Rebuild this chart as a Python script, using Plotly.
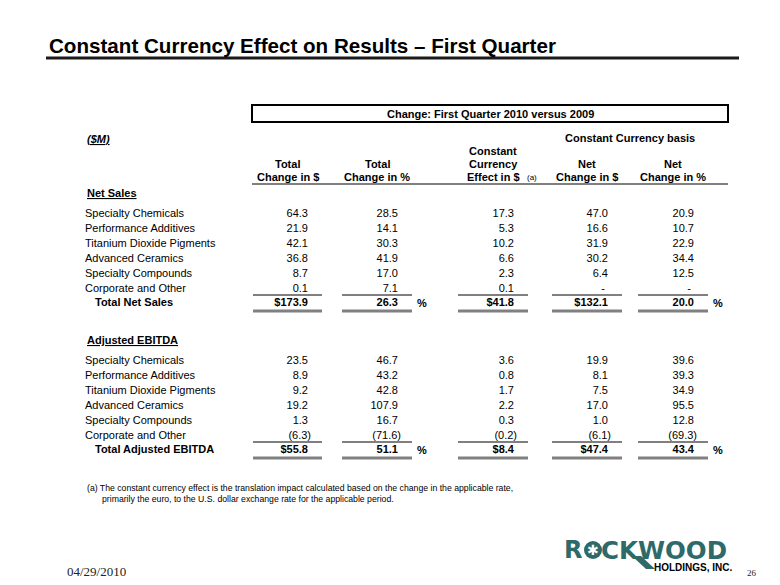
import plotly.graph_objects as go

# ---- data (US$ millions / %) ----
segments = ["Specialty Chemicals", "Performance Additives", "Titanium Dioxide Pigments",
            "Advanced Ceramics", "Specialty Compounds", "Corporate and Other"]

col_headers = [["", "Total", "Change in $"],
               ["", "Total", "Change in %"],
               ["Constant", "Currency", "Effect in $"],
               ["", "Net", "Change in $"],
               ["", "Net", "Change in %"]]

# Net Sales
sales_total_usd = [64.3, 21.9, 42.1, 36.8, 8.7, 0.1]
sales_total_pct = [28.5, 14.1, 30.3, 41.9, 17.0, 7.1]
sales_cc_effect = [17.3, 5.3, 10.2, 6.6, 2.3, 0.1]
sales_net_usd = [47.0, 16.6, 31.9, 30.2, 6.4, None]
sales_net_pct = [20.9, 10.7, 22.9, 34.4, 12.5, None]
sales_totals = [173.9, 26.3, 41.8, 132.1, 20.0]

# Adjusted EBITDA
ebitda_total_usd = [23.5, 8.9, 9.2, 19.2, 1.3, -6.3]
ebitda_total_pct = [46.7, 43.2, 42.8, 107.9, 16.7, -71.6]
ebitda_cc_effect = [3.6, 0.8, 1.7, 2.2, 0.3, -0.2]
ebitda_net_usd = [19.9, 8.1, 7.5, 17.0, 1.0, -6.1]
ebitda_net_pct = [39.6, 39.3, 34.9, 95.5, 12.8, -69.3]
ebitda_totals = [55.8, 51.1, 8.4, 47.4, 43.4]

dollar_cols = [True, False, True, True, False]

# ---- layout constants (pixels of the 780x585 slide) ----
FONT = "Liberation Sans, Arial, sans-serif"
COL_RIGHT = [311, 401, 517, 611, 697]
SEG = [(253, 322), (342, 412), (458, 528), (552, 622), (638, 708)]
SALES_Y0, EBITDA_Y0, STEP = 214, 361, 15
NBSP = "\u00a0"
PAGE_MARGIN = 8  # default body margin of the html page


def fmt(v):
    if v is None:
        return "-" + NBSP * 2
    if v < 0:
        return f"({abs(v):.1f})"
    return f"{v:.1f}" + NBSP


def fmt_total(v, dollar):
    return f"<b>{'$' if dollar else ''}{v:.1f}</b>" + NBSP


fig = go.Figure()


def add_block(cols, totals, y0, total_label):
    ys = [y0 + i * STEP for i in range(len(segments))]
    y_tot = ys[-1] + 14
    # segment labels
    fig.add_trace(go.Scatter(
        x=[85] * len(segments), y=ys, text=segments, mode="text",
        textposition="middle right", textfont=dict(family=FONT, size=11, color="black"),
        hoverinfo="skip", showlegend=False, cliponaxis=False))
    fig.add_trace(go.Scatter(
        x=[95], y=[y_tot], text=[f"<b>{total_label}</b>"], mode="text",
        textposition="middle right", textfont=dict(family=FONT, size=11, color="black"),
        hoverinfo="skip", showlegend=False, cliponaxis=False))
    for j, vals in enumerate(cols):
        fig.add_trace(go.Scatter(
            x=[COL_RIGHT[j]] * (len(vals) + 1), y=ys + [y_tot],
            text=[fmt(v) for v in vals] + [fmt_total(totals[j], dollar_cols[j])],
            mode="text", textposition="middle left",
            textfont=dict(family=FONT, size=11, color="black"),
            hoverinfo="skip", showlegend=False, cliponaxis=False))
        x0, x1 = SEG[j]
        fig.add_shape(type="line", x0=x0, x1=x1, y0=y_tot - 8, y1=y_tot - 8,
                      line=dict(color="black", width=1))
        fig.add_shape(type="line", x0=x0, x1=x1, y0=y_tot + 8, y1=y_tot + 8,
                      line=dict(color="#808080", width=3))
    for j in (1, 4):
        fig.add_annotation(x=SEG[j][1] + 3, y=y_tot, text="<b>%</b>", showarrow=False,
                           xanchor="left", font=dict(family=FONT, size=11, color="black"))


add_block([sales_total_usd, sales_total_pct, sales_cc_effect, sales_net_usd, sales_net_pct],
          sales_totals, SALES_Y0, "Total Net Sales")
add_block([ebitda_total_usd, ebitda_total_pct, ebitda_cc_effect, ebitda_net_usd, ebitda_net_pct],
          ebitda_totals, EBITDA_Y0, "Total Adjusted EBITDA")

# column headers
for j, lines in enumerate(col_headers):
    xc = (SEG[j][0] + SEG[j][1]) / 2
    for k, t in enumerate(lines):
        if t:
            fig.add_annotation(x=xc, y=151 + k * 13, text=f"<b>{t}</b>", showarrow=False,
                               font=dict(family=FONT, size=11, color="black"))
fig.add_annotation(x=532, y=177, text="(a)", showarrow=False,
                   font=dict(family=FONT, size=8, color="black"))
fig.add_shape(type="line", x0=252, x1=728, y0=184, y1=184, line=dict(color="black", width=1))

# title
fig.add_annotation(x=47, y=45, text="<b>Constant Currency Effect on Results \u2013 First Quarter</b>",
                   showarrow=False, xanchor="left",
                   font=dict(family=FONT, size=20.6, color="black"))
fig.add_shape(type="line", x0=46, x1=739, y0=58, y1=58, line=dict(color="#1a1a1a", width=3))

# header box
fig.add_shape(type="rect", x0=252, x1=728, y0=105, y1=122, line=dict(color="black", width=2))
fig.add_annotation(x=490, y=113.5, text="<b>Change: First Quarter 2010 versus 2009</b>",
                   showarrow=False, font=dict(family=FONT, size=11, color="black"))
fig.add_annotation(x=630, y=138, text="<b>Constant Currency basis</b>", showarrow=False,
                   font=dict(family=FONT, size=11, color="black"))
fig.add_annotation(x=85, y=139, text="<b><i><u>($M)</u></i></b>", showarrow=False,
                   xanchor="left", font=dict(family=FONT, size=11, color="black"))
fig.add_annotation(x=85, y=193, text="<b><u>Net Sales</u></b>", showarrow=False,
                   xanchor="left", font=dict(family=FONT, size=11, color="black"))
fig.add_annotation(x=85, y=340, text="<b><u>Adjusted EBITDA</u></b>", showarrow=False,
                   xanchor="left", font=dict(family=FONT, size=11, color="black"))

# footnote
fig.add_annotation(x=85, y=488, text="(a) The constant currency effect is the translation impact "
                   "calculated based on the change in the applicable rate,",
                   showarrow=False, xanchor="left", font=dict(family=FONT, size=8.7, color="black"))
fig.add_annotation(x=100, y=499, text="primarily the euro, to the U.S. dollar exchange rate "
                   "for the applicable period.",
                   showarrow=False, xanchor="left", font=dict(family=FONT, size=8.7, color="black"))

# footer
fig.add_annotation(x=65, y=571, text="04/29/2010", showarrow=False, xanchor="left",
                   font=dict(family="Liberation Serif, Times New Roman, serif", size=13,
                             color="#222222"))
fig.add_annotation(x=745, y=573, text="26", showarrow=False, xanchor="left",
                   font=dict(family="Liberation Serif, Times New Roman, serif", size=9,
                             color="#222222"))

# logo
TEAL = "#2e6a6a"
fig.add_annotation(x=562, y=550, text="<b>R</b>", showarrow=False, xanchor="left",
                   height=24, font=dict(family="DejaVu Sans", size=24, color=TEAL))
fig.add_shape(type="circle", x0=584, x1=602, y0=541, y1=559, fillcolor=TEAL,
              line=dict(color=TEAL, width=0))
fig.add_annotation(x=593, y=550, text="\u2731", showarrow=False,
                   font=dict(family="DejaVu Sans", size=14, color="white"))
fig.add_annotation(x=729, y=550, text="<b>CKWOOD</b>", showarrow=False, xanchor="right",
                   height=24, font=dict(family="DejaVu Sans", size=24.5, color=TEAL))
fig.add_shape(type="path", path="M 632 556 L 641 556 L 655 569 L 646 569 Z",
              fillcolor=TEAL, line=dict(width=0))
fig.add_annotation(x=735, y=567, text="<b>HOLDINGS, INC.</b>", showarrow=False, xanchor="right",
                   font=dict(family=FONT, size=10, color="black"))

# figure sits inside the page's 8px body margin, so map slide pixels 1:1 from there
fig.update_layout(
    width=780 - PAGE_MARGIN, height=585 - PAGE_MARGIN,
    margin=dict(l=0, r=0, t=0, b=0),
    paper_bgcolor="white", plot_bgcolor="white",
    xaxis=dict(range=[PAGE_MARGIN, 780], visible=False, fixedrange=True),
    yaxis=dict(range=[585, PAGE_MARGIN], visible=False, fixedrange=True),
    showlegend=False,
)

fig.write_html("out.html")
